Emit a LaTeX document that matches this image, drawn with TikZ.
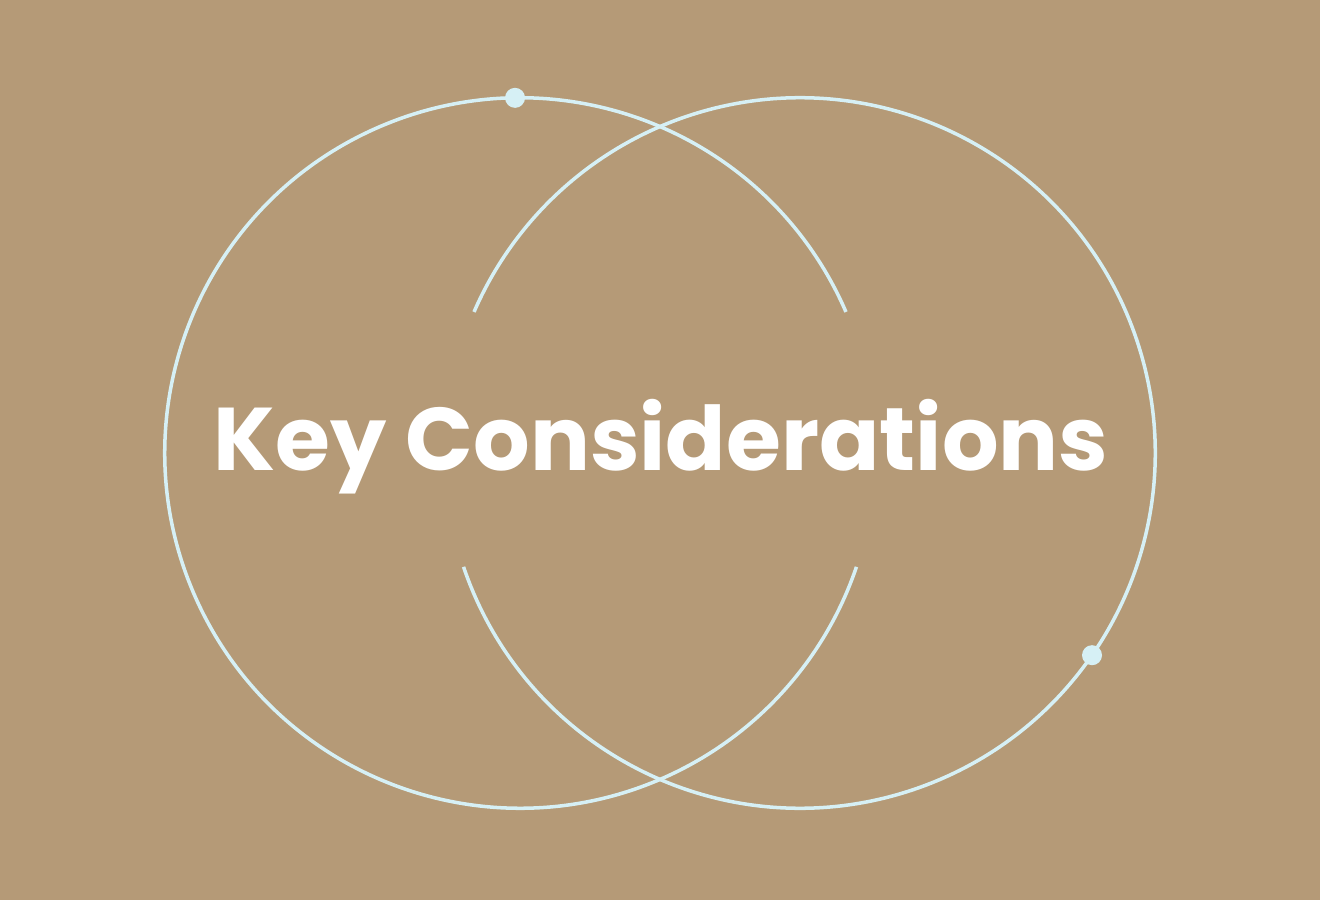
\documentclass[tikz,border=0pt]{standalone}
\usepackage{fontspec}
\newfontfamily\titlefont{Poppins}
\definecolor{sand}{RGB}{181,154,119}
\definecolor{ring}{RGB}{214,240,245}
\begin{document}
\begin{tikzpicture}[x=0.01cm, y=-0.01cm, every node/.style={font=\titlefont}]
            % background
            \fill[sand] (0,0) rectangle (1320,900);
            \useasboundingbox (0,0) rectangle (1320,900);
            % circle centres
            \coordinate (left_c) at (520,453);
            \coordinate (right_c) at (800,453);
            % left ring, open on its right side
            \draw[ring, line width=1pt] ([shift={(23.4:3.55cm)}]left_c) arc[start angle=23.4, end angle=341.3, radius=3.55cm];
            % right ring, open on its left side
            \draw[ring, line width=1pt] ([shift={(198.7:3.55cm)}]right_c) arc[start angle=198.7, end angle=516.6, radius=3.55cm];
            % markers on the rings
            \node[circle, fill=ring, inner sep=0pt, minimum size=0.2cm] (left_dot) at ([shift={(90.8:3.55cm)}]left_c) {};
            \node[circle, fill=ring, inner sep=0pt, minimum size=0.2cm] (right_dot) at ([shift={(-34.7:3.55cm)}]right_c) {};
            % title
            \node[anchor=base, text=white, font=\titlefont\bfseries\fontsize{25.3pt}{29pt}\selectfont] (title) at (661,470) {Key Considerations};
        \end{tikzpicture}
\end{document}
